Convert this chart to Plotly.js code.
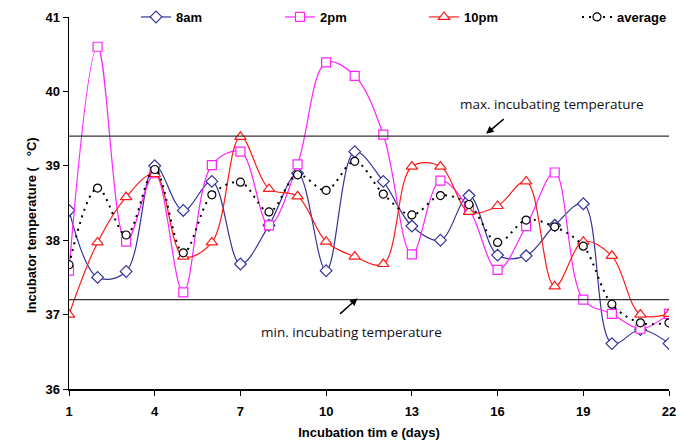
<!DOCTYPE html>
<html>
<head>
<meta charset="utf-8">
<script src="https://cdn.plot.ly/plotly-3.0.1.min.js"></script>
<style>html,body{margin:0;padding:0;background:#fff}#chart{width:696px;height:444px}</style>
</head>
<body>
<div id="chart"></div>
<script>
const days = [1,2,3,4,5,6,7,8,9,10,11,12,13,14,15,16,17,18,19,20,21,22];
const am8 = [38.4,37.5,37.58,39.0,38.4,38.79,37.68,38.2,38.9,37.59,39.19,38.79,38.19,38.0,38.6,37.8,37.79,38.2,38.49,36.61,36.8,36.61];
const pm2 = [37.59,40.6,37.98,38.9,37.3,39.01,39.19,38.2,39.02,40.39,40.21,39.42,37.81,38.8,38.42,37.6,38.19,38.91,37.2,37.01,36.81,37.01];
const pm10 = [37.0,37.97,38.58,38.89,37.78,37.97,39.39,38.69,38.59,37.98,37.78,37.68,38.99,38.99,38.38,38.46,38.79,37.38,37.98,37.79,37.0,37.01];
const avg = [37.67,38.7,38.07,38.95,37.83,38.61,38.78,38.38,38.88,38.67,39.06,38.62,38.34,38.6,38.48,37.97,38.27,38.18,37.92,37.14,36.89,36.89];
const seriesNames = ['8am','2pm','10pm','average'];
const maxTemp = 39.4, minTemp = 37.2;
const xTicks = [1,4,7,10,13,16,19,22];
const yTicks = [36,37,38,39,40,41];

const tickFont = {family: 'Liberation Sans, Arial, sans-serif', size: 13, color: '#000', weight: 'bold'};
const annFont = {family: 'Open Sans, Lato, sans-serif', size: 13.5, color: '#111'};

const mk = (sym, col, size) => ({symbol: sym, size: size, color: '#ffffff', line: {color: col, width: 1.2}});
const traces = [
  {x: days, y: am8, name: seriesNames[0], legend: 'legend', mode: 'lines+markers', line: {color: '#33339a', width: 1.2, shape: 'spline', smoothing: 1}, marker: mk('diamond', '#33339a', 9)},
  {x: days, y: pm2, name: seriesNames[1], legend: 'legend2', mode: 'lines+markers', line: {color: '#ff22ff', width: 1.2, shape: 'spline', smoothing: 1}, marker: mk('square', '#ff22ff', 9)},
  {x: days, y: pm10, name: seriesNames[2], legend: 'legend3', mode: 'lines+markers', line: {color: '#ff1a1a', width: 1.2, shape: 'spline', smoothing: 1}, marker: mk('triangle-up', '#ff1a1a', 10)},
  {x: days, y: avg, name: seriesNames[3], legend: 'legend4', mode: 'lines+markers', line: {color: '#000000', width: 2, dash: '2px,5px', shape: 'spline', smoothing: 1}, marker: mk('circle', '#000000', 8)}
];

const H = 444, W = 696;
const leg = (px) => ({xref: 'container', yref: 'container', x: px / W, xanchor: 'left', y: 1 - 17 / H, yanchor: 'middle', font: tickFont, bgcolor: 'rgba(0,0,0,0)', orientation: 'h'});

const layout = {
  width: W, height: H,
  margin: {l: 69, r: 27, t: 17, b: 55, autoexpand: false},
  paper_bgcolor: '#fff', plot_bgcolor: '#fff',
  showlegend: true,
  legend: leg(136), legend2: leg(280), legend3: leg(424), legend4: leg(577),
  xaxis: {range: [1, 22], tickvals: xTicks, ticktext: xTicks.map(String), showgrid: false, zeroline: false, showline: true, linecolor: '#000', linewidth: 1.5, ticks: 'outside', ticklen: 5, tickcolor: '#000', tickfont: tickFont, ticklabelstandoff: 5,
    title: {text: 'Incubation tim e (days)', font: tickFont, standoff: 10}},
  yaxis: {range: [36, 41], tickvals: yTicks, showgrid: false, zeroline: false, showline: true, linecolor: '#000', linewidth: 1.5, ticks: 'outside', ticklen: 5, tickcolor: '#000', tickfont: tickFont},
  shapes: [
    {type: 'line', xref: 'x', yref: 'y', x0: 1, x1: 22, y0: maxTemp, y1: maxTemp, line: {color: '#333', width: 1.2}},
    {type: 'line', xref: 'x', yref: 'y', x0: 1, x1: 22, y0: minTemp, y1: minTemp, line: {color: '#333', width: 1.2}}
  ],
  annotations: [
    {xref: 'paper', yref: 'paper', x: -0.078, y: 0.44, textangle: -90, text: 'Incubator temperature (   °C)', showarrow: false, font: tickFont},
    {xref: 'x', yref: 'y', x: 17.9, y: 39.83, text: 'max. incubating temperature', showarrow: false, font: annFont},
    {xref: 'x', yref: 'y', x: 15.6, y: 39.43, ax: 19, ay: -16, showarrow: true, arrowhead: 2, arrowsize: 1, arrowwidth: 1.5, arrowcolor: '#000', text: ''},
    {xref: 'x', yref: 'y', x: 10.9, y: 36.76, text: 'min. incubating temperature', showarrow: false, font: annFont},
    {xref: 'x', yref: 'y', x: 11.1, y: 37.22, ax: -19, ay: 17, showarrow: true, arrowhead: 2, arrowsize: 1, arrowwidth: 1.5, arrowcolor: '#000', text: ''}
  ]
};
Plotly.newPlot('chart', traces, layout, {displayModeBar: false, staticPlot: true});
</script>
</body>
</html>
